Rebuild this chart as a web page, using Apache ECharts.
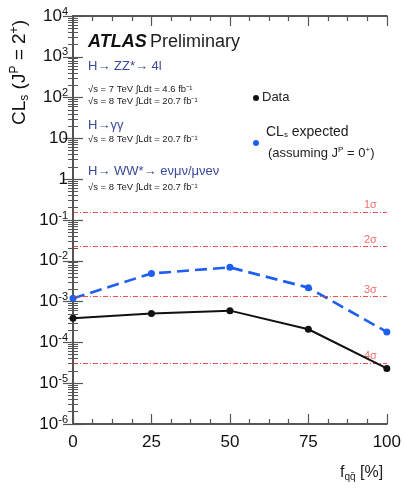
<!DOCTYPE html>
<html><head><meta charset="utf-8">
<script src="https://cdn.jsdelivr.net/npm/echarts@6/dist/echarts.min.js"></script>
<style>html,body{margin:0;padding:0;background:#fff}#c{width:404px;height:497px}</style>
</head><body><div id="c"></div>
<script>
const fqq = [0, 25, 50, 75, 100];
const dataCLs = [3.9e-4, 5.1e-4, 6.0e-4, 2.1e-4, 2.3e-5];
const expectedCLs = [1.2e-3, 4.9e-3, 6.9e-3, 2.2e-3, 1.8e-4];
const sigmaLevels = [0.1587, 0.02275, 0.00135, 3.17e-5];
const sigmaLabels = ['1σ', '2σ', '3σ', '4σ'];
const xTicks = [0, 25, 50, 75, 100];
const yTickExps = [-6, -5, -4, -3, -2, -1, 0, 1, 2, 3, 4];

const FONT = '"Liberation Sans", Arial, Helvetica, sans-serif';
const chart = echarts.init(document.getElementById('c'), null, {renderer: 'canvas'});

function yLabel(v) {
  const e = Math.round(Math.log10(v));
  if (!yTickExps.includes(e)) return '';
  if (e === 0) return '{b|1}';
  if (e === 1) return '{b|10}';
  return '{b|10}{s|' + e + '}';
}
const axisCol = '#555';
const richY = {
  b: {fontSize: 17, fontFamily: FONT, color: '#111'},
  s: {fontSize: 11, fontFamily: FONT, color: '#111', verticalAlign: 'top', padding: [0, 0, 9, 0]}
};

const yCommon = {
  type: 'log', logBase: 10, min: 1e-6, max: 1e4, interval: 1,
  axisLine: {show: true, lineStyle: {color: axisCol, width: 2}},
  axisTick: {inside: true, length: 10, lineStyle: {color: axisCol, width: 1.2}},
  minorTick: {show: true, splitNumber: 9, length: 5, lineStyle: {color: axisCol, width: 1}},
  splitLine: {show: false}
};

const option = {
  animation: false,
  grid: {left: 73, right: 14, top: 16, bottom: 73},
  xAxis: [{
    type: 'value', min: 0, max: 100, interval: 25, position: 'bottom',
    axisLine: {lineStyle: {color: axisCol, width: 2}},
    axisTick: {inside: true, length: 10, lineStyle: {color: axisCol, width: 1.2}},
    minorTick: {show: true, splitNumber: 4, length: 5, lineStyle: {color: axisCol, width: 1.2}},
    axisLabel: {fontSize: 17, fontFamily: FONT, color: '#111', margin: 10,
      formatter: v => xTicks.includes(v) ? String(v) : ''},
    splitLine: {show: false}
  }, {
    type: 'value', min: 0, max: 100, interval: 25, position: 'top',
    axisLine: {lineStyle: {color: axisCol, width: 2}},
    axisTick: {inside: true, length: 10, lineStyle: {color: axisCol, width: 1.2}},
    minorTick: {show: true, splitNumber: 4, length: 5, lineStyle: {color: axisCol, width: 1.2}},
    axisLabel: {show: false}, splitLine: {show: false}
  }],
  yAxis: [
    Object.assign({}, yCommon, {position: 'left', axisLabel: {formatter: yLabel, rich: richY, margin: 5}}),
    Object.assign({}, yCommon, {position: 'right', axisLabel: {show: false}})
  ],
  series: [{
    name: 'Expected', type: 'line',
    data: fqq.map((x, i) => [x, expectedCLs[i]]),
    symbol: 'circle', symbolSize: 7,
    itemStyle: {color: '#1f5ff0'},
    lineStyle: {color: '#1f5ff0', width: 2.6, type: [12, 6]},
    z: 4,
    markLine: {
      silent: true, symbol: 'none', precision: 10,
      lineStyle: {color: '#ee3333', width: 1, type: [5, 2, 1, 2], opacity: 0.85},
      label: {position: 'insideEndTop', color: '#ee5555', fontSize: 11, fontFamily: FONT,
        distance: [10, 1], formatter: p => p.name},
      data: sigmaLevels.map((v, i) => ({yAxis: v, name: sigmaLabels[i]}))
    }
  }, {
    name: 'Data', type: 'line',
    data: fqq.map((x, i) => [x, dataCLs[i]]),
    symbol: 'circle', symbolSize: 7,
    itemStyle: {color: '#111'},
    lineStyle: {color: '#111', width: 2},
    z: 5
  }],
  graphic: [
    {type: 'text', style: {
      text: '{a|CL}{sub|s}{a| (J}{sup|P}{a| = 2}{sup|+}{a|)}', x: 0, y: 0,
      rich: {
        a: {fontSize: 19, fontFamily: FONT, fill: '#111'},
        sub: {fontSize: 12, fontFamily: FONT, fill: '#111', padding: [10, 0, 0, 0]},
        sup: {fontSize: 12, fontFamily: FONT, fill: '#111', padding: [0, 0, 10, 0]}
      }}, originX: 0, originY: 0, position: [9, 125], rotation: Math.PI / 2},
    {type: 'text', position: [88, 33], style: {
      text: '{b|ATLAS} {p|Preliminary}',
      rich: {b: {fontSize: 18, fontWeight: 'bold', fontStyle: 'italic', fontFamily: FONT, fill: '#111'},
             p: {fontSize: 18, fontFamily: FONT, fill: '#222'}}}},
    {type: 'text', position: [88, 60], style: {text: 'H→ ZZ*→ 4l', fontSize: 13, fontFamily: FONT, fill: '#3a4a9a'}},
    {type: 'text', position: [88, 84], style: {text: '√s = 7 TeV ∫Ldt = 4.6 fb⁻¹', fontSize: 9.5, fontFamily: FONT, fill: '#222'}},
    {type: 'text', position: [88, 96], style: {text: '√s = 8 TeV ∫Ldt = 20.7 fb⁻¹', fontSize: 9.5, fontFamily: FONT, fill: '#222'}},
    {type: 'text', position: [88, 119], style: {text: 'H→γγ', fontSize: 13, fontFamily: FONT, fill: '#3a4a9a'}},
    {type: 'text', position: [88, 134], style: {text: '√s = 8 TeV ∫Ldt = 20.7 fb⁻¹', fontSize: 9.5, fontFamily: FONT, fill: '#222'}},
    {type: 'text', position: [88, 165], style: {text: 'H→ WW*→ eνμν/μνeν', fontSize: 13, fontFamily: FONT, fill: '#3a4a9a'}},
    {type: 'text', position: [88, 182], style: {text: '√s = 8 TeV ∫Ldt = 20.7 fb⁻¹', fontSize: 9.5, fontFamily: FONT, fill: '#222'}},
    {type: 'circle', shape: {cx: 256, cy: 98, r: 3}, style: {fill: '#111'}},
    {type: 'text', position: [262, 91], style: {text: 'Data', fontSize: 13, fontFamily: FONT, fill: '#222'}},
    {type: 'circle', shape: {cx: 256, cy: 143, r: 3}, style: {fill: '#1f5ff0'}},
    {type: 'text', position: [266, 125], style: {text: '{a|CL}{s|s}{a| expected}',
      rich: {a: {fontSize: 14, fontFamily: FONT, fill: '#222'}, s: {fontSize: 8, fontFamily: FONT, fill: '#222', padding: [6, 0, 0, 0]}}}},
    {type: 'text', position: [268, 146], style: {text: '{a|(assuming J}{s|P}{a| = 0}{s|+}{a|)}',
      rich: {a: {fontSize: 13, fontFamily: FONT, fill: '#222'}, s: {fontSize: 8, fontFamily: FONT, fill: '#222', padding: [0, 0, 7, 0]}}}},
    {type: 'text', position: [340, 464], style: {text: '{a|f}{s|qq̄}{a| [%]}',
      rich: {a: {fontSize: 16, fontFamily: FONT, fill: '#222'}, s: {fontSize: 10, fontFamily: FONT, fill: '#222', padding: [8, 0, 0, 0]}}}}
  ]
};
chart.setOption(option);
</script></body></html>
